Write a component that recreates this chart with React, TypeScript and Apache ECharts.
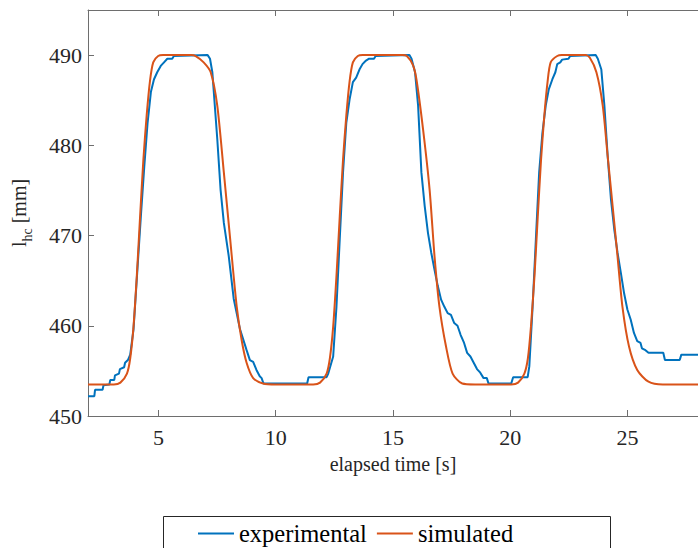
import React, { useEffect, useRef } from "react";
import * as echarts from "echarts";

const FONT = "'Liberation Serif', 'Times New Roman', Times, serif";

const xTickValues = [5, 10, 15, 20, 25];

const experimentalTime = [
  2.0, 2.27, 2.3, 2.62, 2.66, 2.91, 2.95, 3.12, 3.15, 3.32, 3.36, 3.54, 3.58, 3.7, 3.8, 3.94,
  4.1, 4.25, 4.4, 4.54, 4.68, 4.81, 4.95, 5.1, 5.24, 5.38, 5.59, 5.66, 7.1, 7.2, 7.3, 7.51,
  7.65, 7.79, 8.0, 8.21, 8.48, 8.76, 8.9, 9.04, 9.18, 9.32, 9.4, 9.48, 11.34, 11.4, 12.17,
  12.24, 12.45, 12.59, 12.73, 12.87, 13.01, 13.15, 13.29, 13.43, 13.57, 13.7, 13.85, 13.98,
  14.19, 14.26, 15.7, 15.79, 15.94, 16.07, 16.21, 16.35, 16.49, 16.63, 16.77, 16.91, 17.05,
  17.19, 17.33, 17.47, 17.61, 17.75, 17.88, 18.03, 18.16, 18.3, 18.44, 18.58, 18.72, 18.86,
  19.0, 19.07, 20.04, 20.12, 20.74, 20.81, 20.95, 21.09, 21.23, 21.37, 21.51, 21.64, 21.79,
  21.92, 22.0, 22.13, 22.21, 22.48, 22.55, 23.64, 23.73, 23.88, 24.01, 24.15, 24.29, 24.43,
  24.57, 24.71, 24.85, 24.99, 25.13, 25.27, 25.41, 25.55, 25.61, 25.76, 25.89, 26.52, 26.59,
  27.22, 27.29, 28.0,
];
const experimentalLength = [
  452.2, 452.2, 452.9, 452.9, 453.4, 453.5, 454.0, 454.0, 454.5, 454.7, 455.2, 455.4, 455.9,
  456.2, 456.8, 459.6, 466.0, 472.0, 477.7, 482.5, 485.9, 487.3, 488.1, 488.8, 489.2, 489.6,
  489.6, 489.9, 490.0, 489.6, 488.1, 480.7, 475.1, 471.4, 467.7, 463.0, 459.6, 457.3, 456.2,
  456.0, 455.1, 454.4, 454.2, 453.6, 453.6, 454.3, 454.3, 454.7, 456.6, 462.1, 469.6, 477.0,
  482.5, 485.1, 487.0, 487.5, 488.4, 489.0, 489.4, 489.6, 489.6, 489.9, 490.0, 489.6, 488.1,
  484.4, 477.0, 473.3, 470.3, 468.1, 466.2, 464.4, 462.9, 462.1, 461.4, 461.2, 460.3, 460.0,
  459.0, 458.1, 457.0, 456.6, 455.9, 455.2, 454.8, 454.2, 454.2, 453.6, 453.6, 454.3, 454.3,
  455.5, 462.1, 469.6, 477.0, 481.4, 484.4, 486.2, 487.3, 488.1, 489.0, 489.2, 489.5, 489.6,
  489.9, 490.0, 489.6, 488.4, 484.4, 478.8, 474.0, 470.7, 468.1, 465.9, 463.6, 461.8, 460.7,
  459.2, 458.3, 458.1, 457.5, 457.3, 457.0, 457.0, 456.2, 456.2, 456.8, 456.8,
];

const simulatedTime = [
  2.0, 3.1, 3.38, 3.66, 3.8, 3.94, 4.08, 4.22, 4.36, 4.5, 4.64, 4.78, 4.99, 5.2, 6.4, 6.59,
  6.93, 7.23, 7.51, 7.79, 8.06, 8.34, 8.55, 8.76, 9.04, 9.46, 10.0, 11.6, 11.89, 12.17, 12.31,
  12.45, 12.59, 12.73, 12.87, 13.01, 13.15, 13.29, 13.5, 13.71, 15.4, 15.59, 15.85, 16.0,
  16.28, 16.56, 16.77, 16.98, 17.26, 17.54, 17.95, 18.5, 20.04, 20.33, 20.6, 20.75, 20.88,
  21.03, 21.17, 21.31, 21.45, 21.59, 21.72, 22.0, 22.2, 23.2, 23.39, 23.67, 23.94, 24.15,
  24.36, 24.57, 24.78, 25.06, 25.41, 25.89, 26.5, 28.0,
];
const simulatedLength = [
  453.5, 453.5, 453.7, 454.7, 456.4, 459.9, 465.5, 472.1, 478.4, 483.3, 487.1, 489.2, 489.9,
  490.0, 490.0, 489.9, 489.2, 488.1, 484.4, 477.0, 469.6, 462.1, 458.4, 455.9, 454.2, 453.6,
  453.5, 453.5, 453.7, 454.7, 456.4, 459.9, 465.5, 472.1, 478.4, 483.3, 487.1, 489.2, 489.9,
  490.0, 490.0, 489.9, 488.9, 487.3, 481.8, 475.1, 467.7, 462.1, 457.7, 454.7, 453.6, 453.5,
  453.5, 453.7, 454.7, 456.4, 459.9, 465.5, 472.1, 478.4, 483.3, 487.1, 489.2, 489.9, 490.0,
  490.0, 489.7, 488.1, 484.4, 478.8, 473.3, 467.7, 462.1, 457.7, 455.1, 453.8, 453.5, 453.5,
];

const BLUE = "#0072BD";
const ORANGE = "#D95319";
const AXIS = "#6e6e6e";
const TEXT = "#262626";

export default function App() {
  const ref = useRef<HTMLDivElement>(null);

  useEffect(() => {
    if (!ref.current) return;
    const chart = echarts.init(ref.current, undefined, { renderer: "svg" });
    const expData = experimentalTime.map((t, i) => [t, experimentalLength[i]]);
    const simData = simulatedTime.map((t, i) => [t, simulatedLength[i]]);

    chart.setOption({
      animation: false,
      backgroundColor: "#ffffff",
      textStyle: { fontFamily: FONT },
      grid: { left: 88, top: 10, right: -12, bottom: 132, containLabel: false },
      xAxis: [
        {
          type: "value",
          min: 2,
          max: 28,
          position: "bottom",
          axisLine: { show: true, lineStyle: { color: AXIS, width: 1 } },
          axisTick: {
            show: true,
            inside: true,
            length: 6,
            customValues: xTickValues,
            lineStyle: { color: AXIS, width: 1 },
          },
          axisLabel: {
            show: true,
            customValues: xTickValues,
            fontSize: 22,
            fontFamily: FONT,
            color: TEXT,
            margin: 10,
          },
          splitLine: { show: false },
          name: "elapsed time [s]",
          nameLocation: "middle",
          nameGap: 38,
          nameTextStyle: { fontSize: 20, fontFamily: FONT, color: TEXT },
        },
        {
          type: "value",
          min: 2,
          max: 28,
          position: "top",
          axisLine: { show: true, lineStyle: { color: AXIS, width: 1 } },
          axisTick: {
            show: true,
            inside: true,
            length: 6,
            customValues: xTickValues,
            lineStyle: { color: AXIS, width: 1 },
          },
          axisLabel: { show: false },
          splitLine: { show: false },
        },
      ],
      yAxis: {
        type: "value",
        min: 450,
        max: 495,
        interval: 10,
        axisLine: { show: true, lineStyle: { color: AXIS, width: 1 } },
        axisTick: { show: true, inside: true, length: 6, lineStyle: { color: AXIS, width: 1 } },
        axisLabel: {
          fontSize: 22,
          fontFamily: FONT,
          color: TEXT,
          margin: 6,
          showMaxLabel: false,
        },
        splitLine: { show: false },
        name: "{a|l}{b|hc}{a| [mm]}",
        nameLocation: "middle",
        nameRotate: 90,
        nameGap: 54,
        nameTextStyle: {
          color: TEXT,
          fontFamily: FONT,
          rich: {
            a: { fontSize: 20, fontFamily: FONT, color: TEXT, lineHeight: 22, verticalAlign: "top" },
            b: { fontSize: 14, fontFamily: FONT, color: TEXT, padding: [11, 0, 0, 0] },
          },
        },
      },
      legend: {
        data: [
          { name: "experimental", icon: "rect", itemStyle: { color: BLUE } },
          { name: "simulated", icon: "rect", itemStyle: { color: ORANGE } },
        ],
        left: 198,
        top: 521,
        padding: 0,
        itemWidth: 36,
        itemHeight: 2,
        itemGap: 10,
        z: 100,
        textStyle: { fontSize: 24.5, fontFamily: FONT, color: "#000" },
      },
      graphic: [
        {
          type: "rect",
          z: 0,
          shape: { x: 163.5, y: 516.5, width: 447, height: 60 },
          style: { fill: "#ffffff", stroke: "#262626", lineWidth: 1 },
        },
      ],
      series: [
        {
          name: "experimental",
          type: "line",
          data: expData,
          symbol: "none",
          lineStyle: { color: BLUE, width: 2 },
          itemStyle: { color: BLUE },
          z: 2,
        },
        {
          name: "simulated",
          type: "line",
          data: simData,
          symbol: "none",
          smooth: 0.25,
          lineStyle: { color: ORANGE, width: 2 },
          itemStyle: { color: ORANGE },
          z: 3,
        },
      ],
    });

    return () => chart.dispose();
  }, []);

  return (
    <div
      ref={ref}
      style={{ position: "absolute", left: 0, top: 0, width: 698, height: 548 }}
    />
  );
}
